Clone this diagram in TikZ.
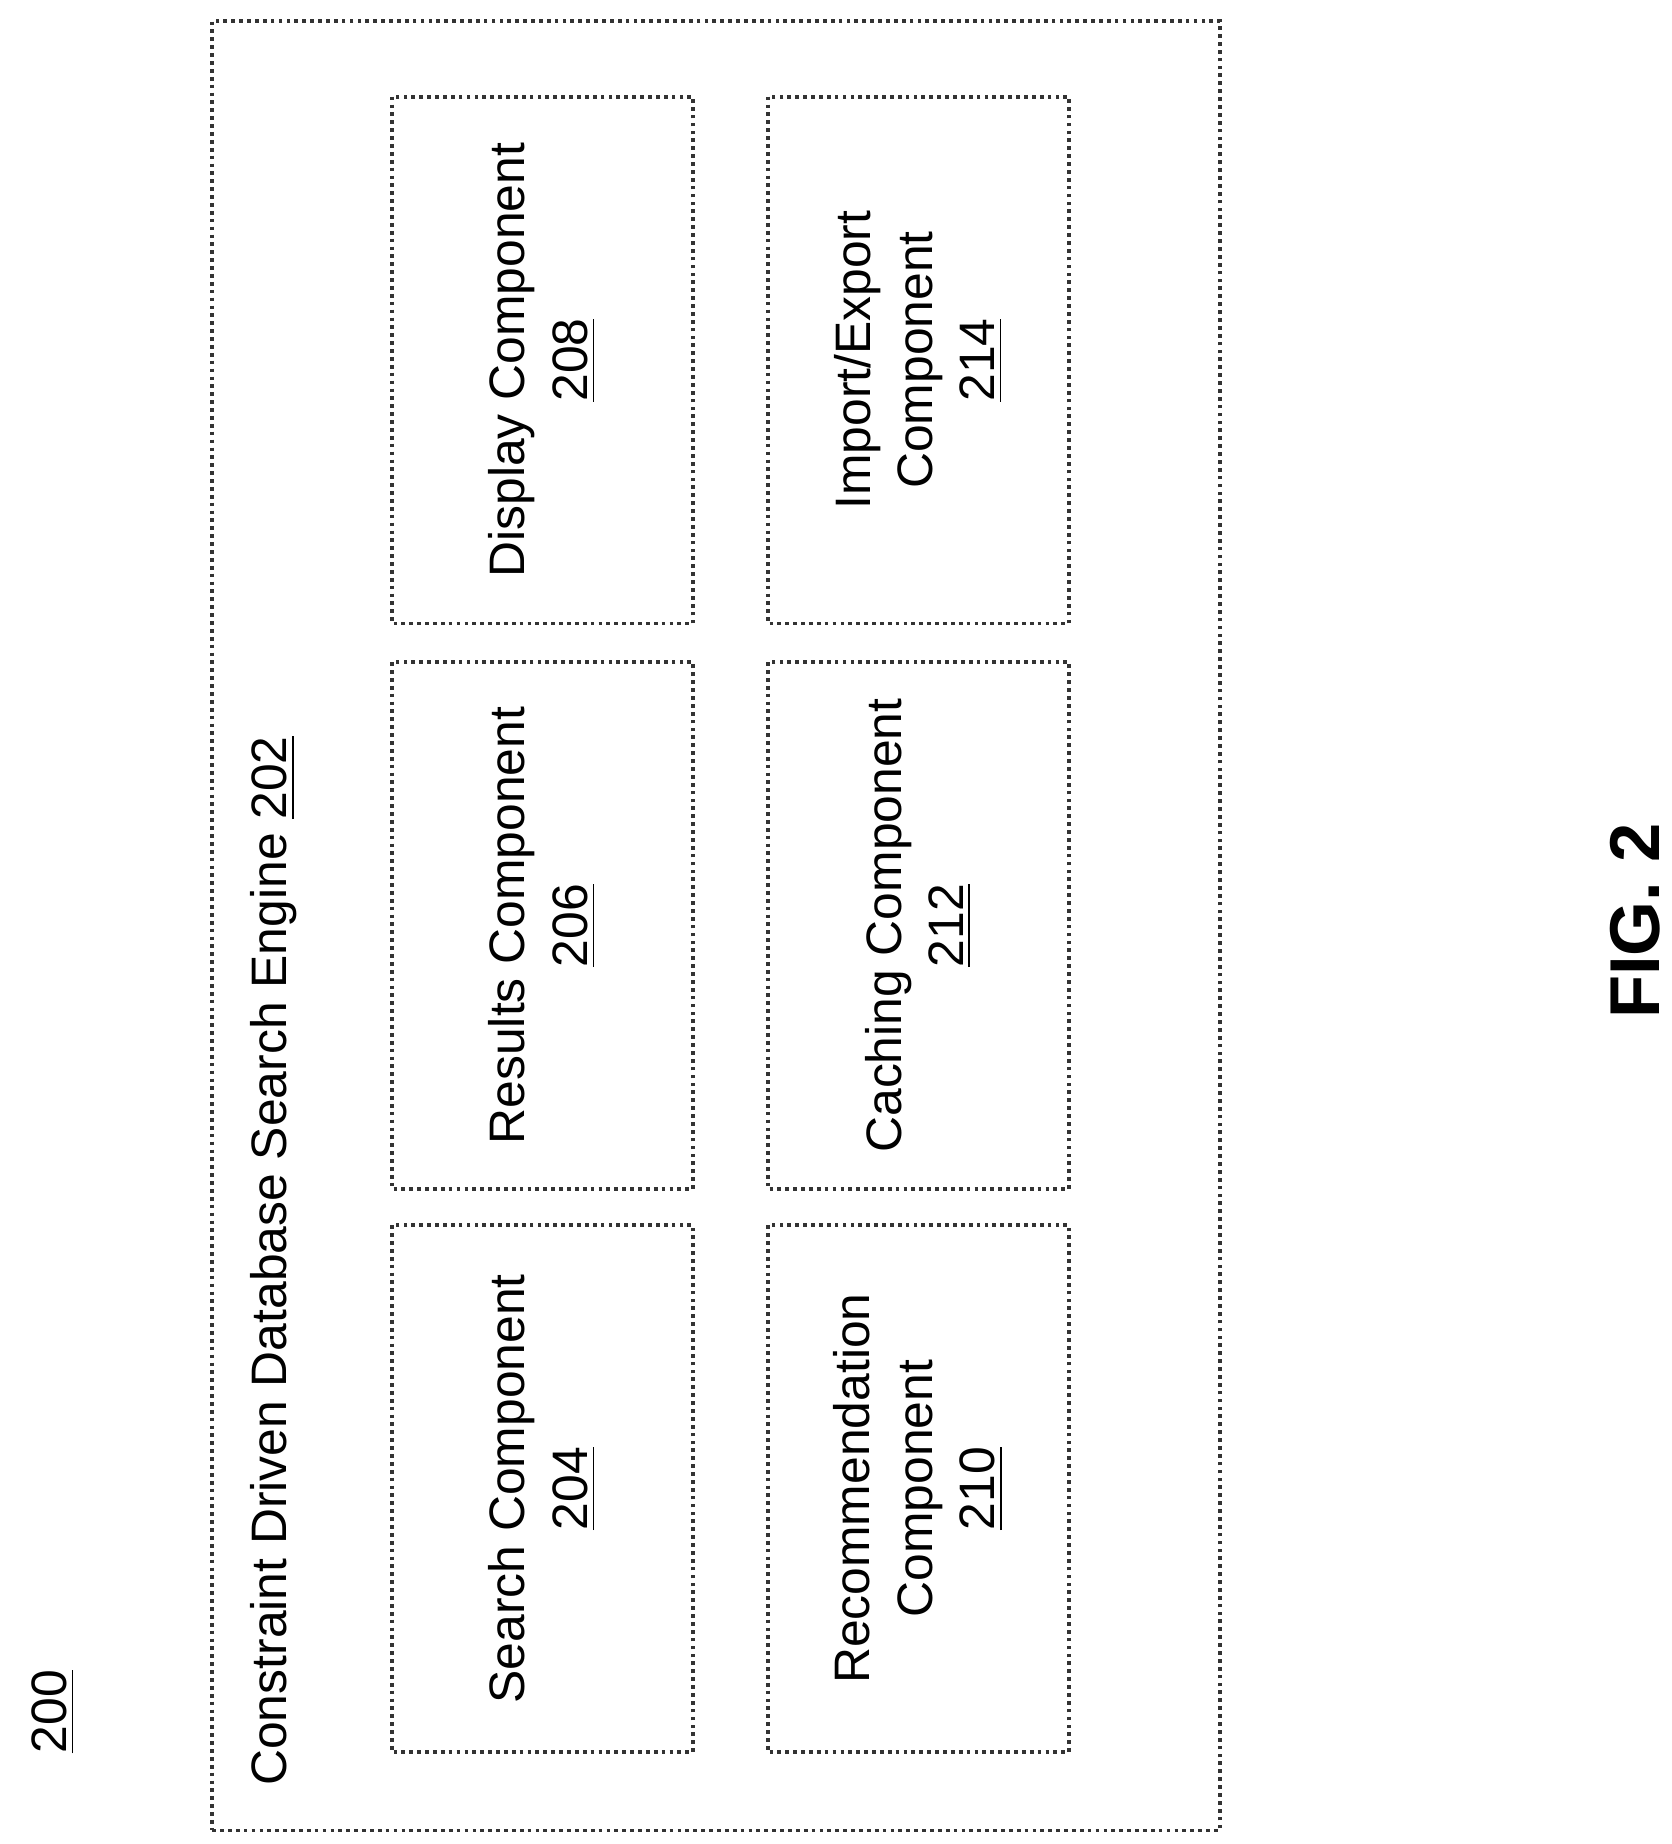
\documentclass[tikz,border=0pt]{standalone}
\usepackage{fontspec}
\setmainfont{Liberation Sans}
\usetikzlibrary{positioning}
\begin{document}
\begin{tikzpicture}[
    x=0.01cm, y=-0.01cm,
    font=\fontsize{12}{15}\selectfont,
    % Styles
    outline/.style={% the dotted frames
        draw=black!80,
        densely dotted,
        line width=0.9pt,
        },
    comp/.style={% For the component boxes
        outline,
        rectangle,
        rotate=90,
        minimum width=4.46cm,
        minimum height=2.55cm,
        align=center,
        },
    ]
    \useasboundingbox (0,0) rectangle (1416,1562);

    \node [outline, rectangle, minimum width=8.53cm, minimum height=15.32cm] (engine) at (606.5,784) {};
    \node [rotate=90, anchor=west] (title) at (232,1525) {Constraint Driven Database Search Engine \underline{202}};
    \node [rotate=90] (fig) at (45,1450) {\underline{200}};

    % Component boxes
    \node [comp] (search) at (459.5,1261) {Search Component\\\underline{204}};
    \node [comp] (results) at (459.5,784) {Results Component\\\underline{206}};
    \node [comp] (display) at (459.5,305) {Display Component\\\underline{208}};
    \node [comp] (recommend) at (778,1261) {Recommendation\\Component\\\underline{210}};
    \node [comp] (caching) at (778,784) {Caching Component\\\underline{212}};
    \node [comp] (importexport) at (778,305) {Import/Export\\Component\\\underline{214}};

    \node [rotate=90, font=\fontsize{17}{20}\selectfont\bfseries] (figlabel) at (1385,780) {FIG. 2};
\end{tikzpicture}
\end{document}
